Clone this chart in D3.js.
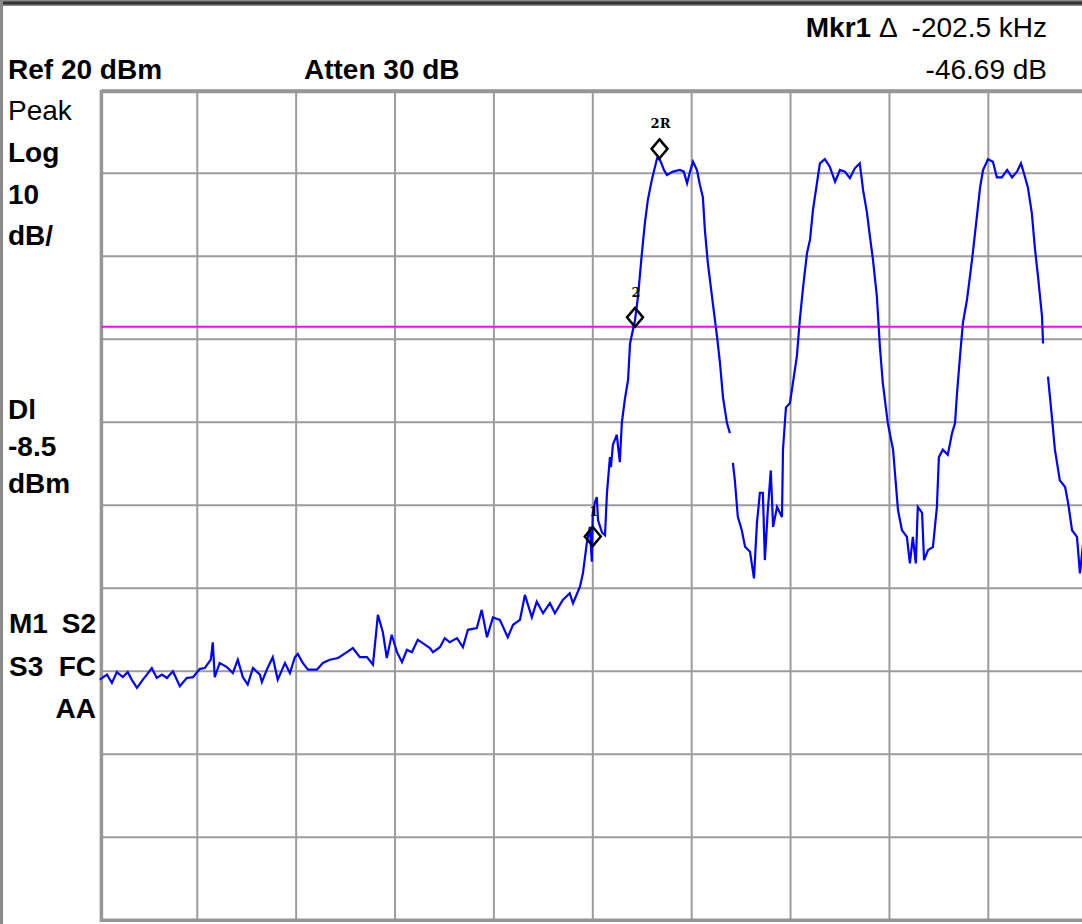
<!DOCTYPE html>
<html>
<head>
<meta charset="utf-8">
<script src="https://cdn.jsdelivr.net/npm/d3@7"></script>
<style>
  body { margin: 0; background: #fff; }
  svg { display: block; }
  text { font-family: "Liberation Sans", Arial, sans-serif; fill: #000; white-space: pre; }
</style>
</head>
<body>
<svg id="chart" width="1082" height="924"></svg>
<script>
// Spectrum analyser screen: 3 MHz span, Ref 20 dBm, 10 dB/div

// frequency offset from centre (kHz) and grid divisions
const spanKHz = [-1500, 1500];
const freqTicks = [-1500, -1200, -900, -600, -300, 0, 300, 600, 900, 1200, 1500];
const levelRange = [-80, 20];
const levelTicks = [20, 10, 0, -10, -20, -30, -40, -50, -60, -70, -80];

// display line (dBm)
const displayLine = -8.5;

// trace: [kHz offset, dBm], null level = gap in the drawn trace
const trace = [
  [-1496, -51.0], [-1474, -50.4], [-1459, -51.4], [-1444, -50.1], [-1426, -50.7],
  [-1411, -50.1], [-1399, -51.0], [-1383, -52.0], [-1365, -51.0], [-1353, -50.4],
  [-1338, -49.6], [-1323, -50.8], [-1307, -50.4], [-1292, -50.8], [-1274, -50.0],
  [-1253, -51.8], [-1232, -50.8], [-1213, -50.7], [-1192, -49.7], [-1177, -49.6],
  [-1159, -48.6], [-1153, -46.5], [-1147, -50.7], [-1132, -49.0], [-1110, -49.5],
  [-1092, -50.2], [-1077, -48.6], [-1062, -50.7], [-1047, -51.6], [-1031, -49.6],
  [-1010, -50.4], [-1004, -51.3], [-989, -49.8], [-971, -48.3], [-956, -51.0],
  [-934, -49.0], [-919, -50.2], [-904, -48.3], [-895, -47.9], [-880, -49.0],
  [-864, -49.8], [-837, -49.8], [-819, -49.0], [-798, -48.6], [-773, -48.4],
  [-746, -47.7], [-728, -47.2], [-707, -48.3], [-685, -48.3], [-667, -49.2],
  [-652, -43.2], [-637, -45.3], [-625, -48.4], [-610, -45.6], [-594, -47.7],
  [-579, -48.9], [-564, -47.4], [-549, -47.7], [-531, -46.2], [-516, -46.6],
  [-494, -47.2], [-485, -47.7], [-464, -47.1], [-449, -46.0], [-434, -46.5],
  [-412, -46.0], [-394, -47.1], [-379, -45.0], [-352, -44.8], [-337, -42.6],
  [-321, -45.9], [-303, -43.5], [-282, -43.8], [-258, -45.9], [-242, -44.4],
  [-221, -43.8], [-206, -40.8], [-185, -43.5], [-170, -41.6], [-151, -43.0],
  [-130, -41.8], [-115, -43.0], [-91, -41.4], [-70, -40.6], [-60, -41.8],
  [-39, -39.8], [-30, -38.2], [-18, -34.5], [-9, -32.6], [-3, -36.8],
  [0, -30.9], [6, -29.7], [12, -29.0], [16, -31.8], [28, -33.3],
  [37, -33.6], [43, -28.5], [52, -24.2], [55, -25.4], [61, -22.7],
  [73, -21.5], [76, -22.7], [82, -24.8], [88, -20.1], [97, -17.3],
  [107, -14.9], [113, -10.5], [128, -7.7], [137, -4.9], [149, 0.4],
  [158, 4.0], [167, 6.8], [179, 9.2], [195, 11.8], [204, 11.6],
  [216, 10.4], [225, 9.8], [243, 10.2], [264, 10.4], [276, 10.2],
  [286, 8.8], [295, 10.2], [304, 11.4], [316, 10.4], [325, 8.6],
  [334, 7.1], [340, 3.2], [349, -0.8], [364, -5.6], [377, -9.7],
  [386, -12.9], [395, -17.0], [407, -20.1], [416, -21.3], [420, null],
  [425, -24.9], [431, -27.0], [440, -31.4], [452, -33.0], [462, -35.0],
  [477, -35.6], [489, -38.8], [498, -32.1], [507, -28.5], [516, -28.5],
  [522, -36.6], [531, -30.6], [540, -25.8], [547, -32.6], [559, -30.2],
  [574, -31.4], [577, -23.3], [586, -18.2], [598, -17.7], [607, -15.3],
  [619, -12.1], [628, -7.7], [638, -3.7], [650, 0.4], [659, 2.0],
  [668, 5.6], [680, 8.8], [689, 11.2], [704, 11.7], [719, 10.8],
  [735, 9.0], [750, 10.4], [765, 10.2], [780, 9.4], [795, 10.6],
  [810, 11.2], [820, 8.0], [832, 5.2], [841, 2.3], [850, -0.4],
  [862, -4.9], [871, -10.9], [880, -15.3], [895, -20.1], [911, -23.3],
  [926, -30.6], [938, -33.0], [953, -33.8], [962, -37.0], [971, -33.8],
  [980, -37.0], [986, -30.2], [999, -30.9], [1005, -36.6], [1017, -35.4],
  [1032, -35.0], [1044, -30.2], [1050, -24.2], [1062, -23.3], [1077, -23.9],
  [1090, -21.3], [1099, -20.1], [1105, -16.5], [1114, -12.1], [1123, -8.0],
  [1135, -5.3], [1144, -2.5], [1153, 0.4], [1165, 4.7], [1175, 8.3],
  [1184, 10.4], [1199, 11.7], [1214, 11.4], [1226, 9.5], [1241, 9.5],
  [1257, 10.4], [1272, 9.5], [1287, 10.2], [1299, 11.2], [1308, 10.0],
  [1320, 8.3], [1332, 5.2], [1341, 1.1], [1351, -2.5], [1363, -7.3],
  [1366, -10.5], [1373, null], [1381, -14.5], [1393, -19.4], [1402, -23.3],
  [1417, -27.0], [1433, -27.8], [1442, -29.7], [1454, -33.0], [1469, -33.8],
  [1478, -38.2], [1487, -34.8]
];

// markers
const markerNames = ["1", "2", "2R"];
const markerKHz = [0, 128, 202.5];
const markerDBm = [-34.9, -8.5, 11.8];

// annotation text
const headerLeft = ["Ref 20 dBm", "Atten 30 dB"];
const markerReadout = ["Mkr1 \u0394  -202.5 kHz", "-46.69 dB"];
const sideScale = ["Peak", "Log", "10", "dB/"];
const sideDisplay = ["Dl", "-8.5", "dBm"];
const sideStatus = [["M1", "S2"], ["S3", "FC"], ["", "AA"]];

const svg = d3.select("#chart");

// screen geometry
const x = d3.scaleLinear().domain(spanKHz).range([98.4, 1087.2]);
const y = d3.scaleLinear().domain(levelRange).range([920.3, 90.3]);
const frameLeft = x(spanKHz[0]) + 3;

// window edges
svg.append("rect").attr("x", 0).attr("y", 0).attr("width", 1082).attr("height", 6).attr("fill", "#8a8a8a");
svg.append("line").attr("x1", 0).attr("x2", 1082).attr("y1", 3).attr("y2", 3)
    .attr("stroke", "#333").attr("stroke-width", 3);
svg.append("rect").attr("x", 0).attr("y", 0).attr("width", 3).attr("height", 924).attr("fill", "#8a8a8a");

// grid
const grid = svg.append("g").attr("stroke", "#9c9c9c").attr("stroke-width", 2);
grid.selectAll(".v").data(freqTicks.slice(1)).join("line")
    .attr("x1", d => x(d)).attr("x2", d => x(d))
    .attr("y1", y(levelRange[1])).attr("y2", y(levelRange[0]));
grid.selectAll(".h").data(levelTicks).join("line")
    .attr("x1", frameLeft).attr("x2", x(spanKHz[1]))
    .attr("y1", d => y(d)).attr("y2", d => y(d));

// frame (drawn just inside the graticule)
svg.append("path")
    .attr("d", `M${x(spanKHz[1]) + 5},${y(levelRange[1]) + 1.2} H${frameLeft} V${y(levelRange[0])} H${x(spanKHz[1]) + 5}`)
    .attr("fill", "none").attr("stroke", "#969696").attr("stroke-width", 3.5);

// display line
svg.append("line")
    .attr("x1", frameLeft).attr("x2", 1082)
    .attr("y1", y(displayLine)).attr("y2", y(displayLine))
    .attr("stroke", "#ff00ff").attr("stroke-width", 2);

// trace
const line = d3.line()
    .defined(d => d[1] !== null)
    .x(d => x(d[0]))
    .y(d => y(d[1]));
svg.append("path")
    .datum(trace)
    .attr("d", line)
    .attr("fill", "none")
    .attr("stroke", "#0000ff")
    .attr("stroke-width", 2.2)
    .attr("stroke-linejoin", "miter");

// markers: diamond sits on top of the trace point
const markers = markerNames.map((n, i) => ({ name: n, f: markerKHz[i], v: markerDBm[i] }));
const mk = svg.selectAll(".marker").data(markers).join("g")
    .attr("transform", d => `translate(${x(d.f)},${y(d.v)})`);
mk.append("path")
    .attr("d", "M0,-19 L8,-9.5 L0,0 L-8,-9.5 Z")
    .attr("fill", "none").attr("stroke", "#000").attr("stroke-width", 2.5);
mk.append("text")
    .attr("x", 1).attr("y", -30)
    .attr("text-anchor", "middle")
    .style("font-family", "'DejaVu Serif', 'Liberation Serif', serif")
    .style("font-weight", "bold")
    .style("font-size", "13px")
    .text(d => d.name);

// header
const big = "28px";
svg.append("text").attr("x", 8).attr("y", 79).style("font-size", big).style("font-weight", "bold").text(headerLeft[0]);
svg.append("text").attr("x", 304).attr("y", 79).style("font-size", big).style("font-weight", "bold").text(headerLeft[1]);
const r1 = svg.append("text").attr("x", 1047).attr("y", 37).attr("text-anchor", "end").style("font-size", big);
r1.append("tspan").style("font-weight", "bold").text("Mkr1");
r1.append("tspan").text(markerReadout[0].slice(4));
svg.append("text").attr("x", 1047).attr("y", 79).attr("text-anchor", "end").style("font-size", big).text(markerReadout[1]);

// left column
const scaleY = [120, 162, 204, 245];
sideScale.forEach((t, i) => {
  svg.append("text").attr("x", 8).attr("y", scaleY[i]).style("font-size", big)
      .style("font-weight", i === 0 ? "normal" : "bold").text(t);
});
const dispY = [419, 456, 493];
sideDisplay.forEach((t, i) => {
  svg.append("text").attr("x", 8).attr("y", dispY[i]).style("font-size", big).style("font-weight", "bold").text(t);
});
const statY = [633, 676, 718];
sideStatus.forEach((row, i) => {
  svg.append("text").attr("x", 9).attr("y", statY[i]).style("font-size", big).style("font-weight", "bold").text(row[0]);
  svg.append("text").attr("x", 96).attr("y", statY[i]).attr("text-anchor", "end")
      .style("font-size", big).style("font-weight", "bold").text(row[1]);
});
</script>
</body>
</html>
